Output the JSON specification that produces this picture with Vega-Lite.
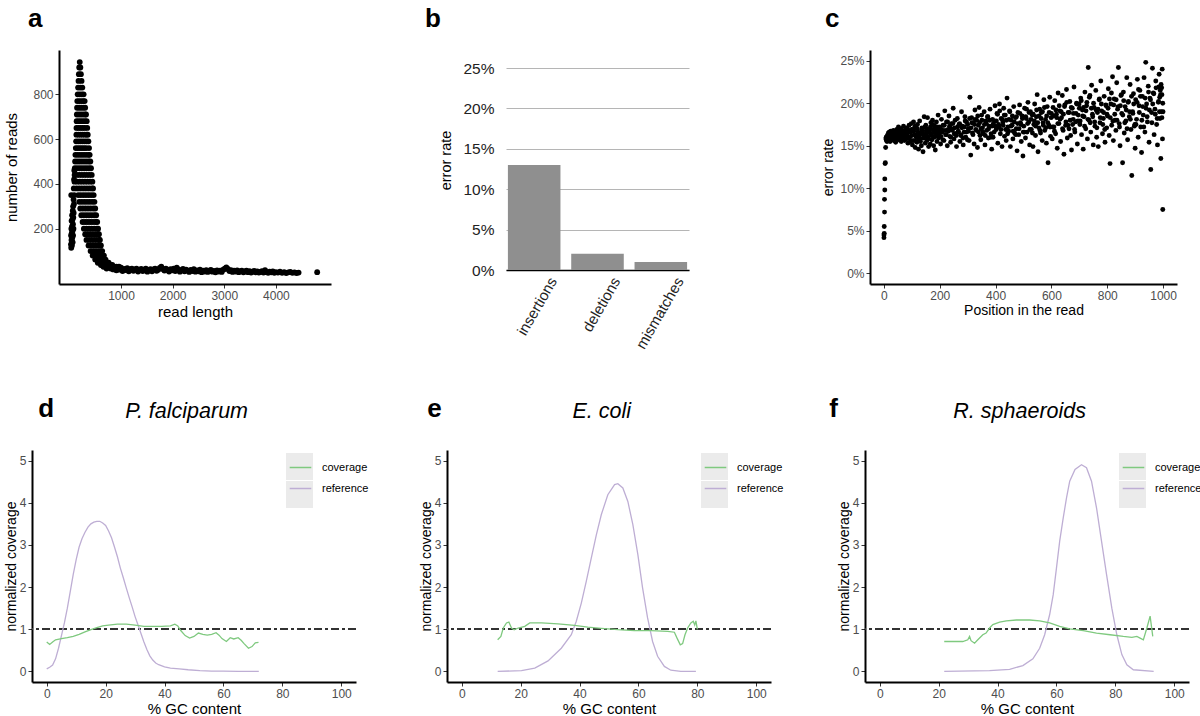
{
"$schema": "https://vega.github.io/schema/vega-lite/v6.json",
"padding": {"left": 3, "top": 6, "right": 0, "bottom": 0},
"background": "white",
"config": {
  "font": "Liberation Sans",
  "view": {"stroke": null},
  "axis": {"domainColor": "#000", "domainWidth": 2, "tickColor": "#333", "tickSize": 4, "tickWidth": 1, "labelColor": "#4d4d4d", "labelFontSize": 12, "labelPadding": 2, "titleFontSize": 15, "titleFontWeight": "normal", "titleColor": "#000", "grid": false},
  "title": {"fontSize": 26, "fontWeight": "bold", "anchor": "start", "color": "#000"}
},
"datasets": {
"lengths": [
{"x":35,"n":350},{"x":30,"n":130},{"x":32,"n":170},{"x":35,"n":115},{"x":38,"n":200},{"x":40,"n":150},{"x":42,"n":235},{"x":45,"n":180},{"x":48,"n":125},{"x":50,"n":210},{"x":52,"n":260},{"x":55,"n":160},{"x":58,"n":240},{"x":60,"n":190},{"x":62,"n":140},{"x":65,"n":280},{"x":68,"n":220},{"x":70,"n":170},{"x":72,"n":300},{"x":75,"n":250},{"x":78,"n":200},{"x":80,"n":330},{"x":82,"n":270},{"x":85,"n":380},{"x":88,"n":310},{"x":90,"n":420},{"x":92,"n":350},{"x":95,"n":460},
{"x":200,"n":944},
{"x":190,"n":920},{"x":212,"n":920},
{"x":183,"n":890},{"x":222,"n":890},
{"x":176,"n":860},{"x":235,"n":860},
{"x":168,"n":830},{"x":210,"n":830},{"x":250,"n":830},
{"x":160,"n":800},{"x":200,"n":800},{"x":240,"n":800},{"x":275,"n":800},
{"x":152,"n":770},{"x":192,"n":770},{"x":232,"n":770},{"x":270,"n":770},{"x":295,"n":770},
{"x":148,"n":740},{"x":188,"n":740},{"x":228,"n":740},{"x":268,"n":740},{"x":305,"n":740},
{"x":144,"n":710},{"x":184,"n":710},{"x":224,"n":710},{"x":264,"n":710},{"x":304,"n":710},{"x":322,"n":710},
{"x":140,"n":680},{"x":180,"n":680},{"x":220,"n":680},{"x":260,"n":680},{"x":300,"n":680},{"x":335,"n":680},
{"x":137,"n":650},{"x":177,"n":650},{"x":217,"n":650},{"x":257,"n":650},{"x":297,"n":650},{"x":345,"n":650},
{"x":135,"n":620},{"x":175,"n":620},{"x":215,"n":620},{"x":255,"n":620},{"x":295,"n":620},{"x":335,"n":620},{"x":355,"n":620},
{"x":130,"n":590},{"x":170,"n":590},{"x":210,"n":590},{"x":250,"n":590},{"x":290,"n":590},{"x":330,"n":590},{"x":368,"n":590},
{"x":124,"n":560},{"x":164,"n":560},{"x":204,"n":560},{"x":244,"n":560},{"x":284,"n":560},{"x":324,"n":560},{"x":380,"n":560},
{"x":116,"n":530},{"x":158,"n":530},{"x":200,"n":530},{"x":242,"n":530},{"x":284,"n":530},{"x":326,"n":530},{"x":368,"n":530},{"x":392,"n":530},
{"x":110,"n":500},{"x":152,"n":500},{"x":196,"n":500},{"x":240,"n":500},{"x":284,"n":500},{"x":328,"n":500},{"x":372,"n":500},{"x":405,"n":500},
{"x":104,"n":470},{"x":148,"n":470},{"x":194,"n":470},{"x":240,"n":470},{"x":286,"n":470},{"x":332,"n":470},{"x":378,"n":470},{"x":418,"n":470},
{"x":100,"n":440},{"x":146,"n":440},{"x":194,"n":440},{"x":242,"n":440},{"x":290,"n":440},{"x":338,"n":440},{"x":386,"n":440},{"x":432,"n":440},
{"x":98,"n":410},{"x":150,"n":410},{"x":200,"n":410},{"x":250,"n":410},{"x":300,"n":410},{"x":350,"n":410},{"x":400,"n":410},{"x":445,"n":410},
{"x":140,"n":380},{"x":190,"n":380},{"x":240,"n":380},{"x":290,"n":380},{"x":340,"n":380},{"x":390,"n":380},{"x":440,"n":380},{"x":458,"n":380},
{"x":170,"n":350},{"x":220,"n":350},{"x":270,"n":350},{"x":320,"n":350},{"x":370,"n":350},{"x":420,"n":350},{"x":470,"n":350},
{"x":190,"n":320},{"x":240,"n":320},{"x":290,"n":320},{"x":340,"n":320},{"x":390,"n":320},{"x":440,"n":320},{"x":485,"n":320},
{"x":210,"n":290},{"x":260,"n":290},{"x":310,"n":290},{"x":360,"n":290},{"x":410,"n":290},{"x":460,"n":290},{"x":500,"n":290},
{"x":230,"n":260},{"x":280,"n":260},{"x":330,"n":260},{"x":380,"n":260},{"x":430,"n":260},{"x":480,"n":260},{"x":518,"n":260},
{"x":255,"n":230},{"x":305,"n":230},{"x":355,"n":230},{"x":405,"n":230},{"x":455,"n":230},{"x":505,"n":230},{"x":538,"n":230},
{"x":280,"n":200},{"x":330,"n":200},{"x":380,"n":200},{"x":430,"n":200},{"x":480,"n":200},{"x":530,"n":200},{"x":555,"n":200},
{"x":305,"n":175},{"x":355,"n":175},{"x":405,"n":175},{"x":455,"n":175},{"x":505,"n":175},{"x":555,"n":175},{"x":572,"n":175},
{"x":330,"n":150},{"x":380,"n":150},{"x":430,"n":150},{"x":480,"n":150},{"x":530,"n":150},{"x":580,"n":150},{"x":590,"n":150},
{"x":370,"n":125},{"x":420,"n":125},{"x":470,"n":125},{"x":520,"n":125},{"x":570,"n":125},{"x":610,"n":125},
{"x":410,"n":100},{"x":460,"n":100},{"x":510,"n":100},{"x":560,"n":100},{"x":610,"n":100},{"x":635,"n":100},
{"x":450,"n":80},{"x":500,"n":80},{"x":550,"n":80},{"x":600,"n":80},{"x":650,"n":80},{"x":668,"n":80},
{"x":500,"n":62},{"x":555,"n":62},{"x":610,"n":62},{"x":665,"n":62},{"x":700,"n":62},
{"x":550,"n":48},{"x":610,"n":48},{"x":670,"n":48},{"x":725,"n":48},{"x":760,"n":48},
{"x":610,"n":38},{"x":670,"n":38},{"x":730,"n":38},{"x":790,"n":38},{"x":830,"n":38},
{"x":660,"n":30},{"x":720,"n":30},{"x":780,"n":30},{"x":850,"n":30},{"x":910,"n":30},{"x":960,"n":30},
{"x":720,"n":22},{"x":800,"n":22},{"x":880,"n":22},{"x":960,"n":22},
{"x":820,"n":26},{"x":850,"n":18},{"x":880,"n":28},{"x":910,"n":14},{"x":940,"n":23},{"x":970,"n":17},{"x":1000,"n":26},{"x":1030,"n":11},{"x":1060,"n":20},{"x":1090,"n":15},{"x":1120,"n":24},{"x":1150,"n":10},{"x":1180,"n":19},{"x":1210,"n":22},{"x":1240,"n":12},{"x":1270,"n":18},{"x":1300,"n":21},{"x":1330,"n":9},{"x":1360,"n":16},{"x":1390,"n":20},{"x":1420,"n":11},{"x":1450,"n":17},{"x":1480,"n":21},{"x":1510,"n":8},{"x":1540,"n":15},{"x":1570,"n":19},{"x":1600,"n":10},{"x":1630,"n":18},{"x":1660,"n":22},{"x":1690,"n":12},{"x":1720,"n":17},{"x":1750,"n":25},{"x":1780,"n":30},{"x":1810,"n":20},{"x":1840,"n":13},{"x":1870,"n":21},{"x":1900,"n":16},{"x":1930,"n":9},{"x":1960,"n":19},{"x":1990,"n":14},{"x":2020,"n":22},{"x":2050,"n":11},{"x":2080,"n":26},{"x":2110,"n":18},{"x":2140,"n":8},{"x":2170,"n":15},{"x":2200,"n":20},{"x":2230,"n":10},{"x":2260,"n":17},{"x":2290,"n":13},{"x":2320,"n":7},{"x":2350,"n":16},{"x":2380,"n":11},{"x":2410,"n":19},{"x":2440,"n":8},{"x":2470,"n":14},{"x":2500,"n":10},{"x":2530,"n":17},{"x":2560,"n":6},{"x":2590,"n":13},{"x":2620,"n":9},{"x":2650,"n":15},{"x":2680,"n":7},{"x":2710,"n":12},{"x":2740,"n":16},{"x":2770,"n":8},{"x":2800,"n":11},{"x":2830,"n":5},{"x":2860,"n":14},{"x":2890,"n":9},{"x":2920,"n":13},{"x":2950,"n":7},{"x":2980,"n":17},{"x":3010,"n":21},{"x":3040,"n":27},{"x":3070,"n":20},{"x":3100,"n":11},{"x":3130,"n":15},{"x":3160,"n":7},{"x":3190,"n":12},{"x":3220,"n":9},{"x":3250,"n":14},{"x":3280,"n":6},{"x":3310,"n":10},{"x":3340,"n":13},{"x":3370,"n":5},{"x":3400,"n":9},{"x":3430,"n":12},{"x":3460,"n":6},{"x":3490,"n":10},{"x":3520,"n":4},{"x":3550,"n":8},{"x":3580,"n":11},{"x":3610,"n":5},{"x":3640,"n":9},{"x":3670,"n":4},{"x":3700,"n":7},{"x":3730,"n":10},{"x":3760,"n":4},{"x":3790,"n":15},{"x":3820,"n":6},{"x":3850,"n":3},{"x":3880,"n":8},{"x":3910,"n":5},{"x":3940,"n":9},{"x":3970,"n":3},{"x":4000,"n":6},{"x":4040,"n":4},{"x":4080,"n":8},{"x":4120,"n":3},{"x":4160,"n":6},{"x":4200,"n":2},{"x":4240,"n":5},{"x":4280,"n":7},{"x":4320,"n":3},{"x":4360,"n":5},{"x":4400,"n":2},{"x":4440,"n":4},{"x":4800,"n":6}
],
"err": [{"type":"insertions","rate":0.13},{"type":"deletions","rate":0.02},{"type":"mismatches","rate":0.01}],
"pos": [
{"x":0,"p":4.2},{"x":0,"p":4.5},{"x":1,"p":4.7},{"x":1,"p":5.5},{"x":2,"p":7.2},{"x":2,"p":8.7},{"x":3,"p":9.8},{"x":3,"p":11.1},{"x":4,"p":12.9},{"x":5,"p":13.0},{"x":6,"p":14.8},{"x":7,"p":15.8},{"x":8,"p":16.0},{"x":9,"p":15.6},
{"x":10,"p":15.9},{"x":12,"p":16.2},{"x":14,"p":15.6},{"x":16,"p":16.5},{"x":18,"p":15.8},{"x":20,"p":16.1},{"x":22,"p":15.5},{"x":24,"p":16.7},{"x":26,"p":16.0},{"x":28,"p":15.7},{"x":30,"p":16.4},{"x":32,"p":15.9},{"x":34,"p":16.8},{"x":36,"p":15.6},{"x":38,"p":16.2},{"x":40,"p":16.6},{"x":42,"p":15.4},{"x":44,"p":16.0},{"x":46,"p":16.9},{"x":48,"p":15.8},{"x":50,"p":16.3},{"x":52,"p":17.2},{"x":54,"p":15.7},{"x":56,"p":16.5},{"x":58,"p":16.1},{"x":60,"p":17.0},{"x":62,"p":15.5},{"x":64,"p":16.4},{"x":66,"p":16.8},{"x":68,"p":15.9},{"x":70,"p":17.3},{"x":72,"p":16.2},{"x":74,"p":15.6},{"x":76,"p":16.7},{"x":78,"p":17.1},{"x":80,"p":15.8},{"x":82,"p":16.4},{"x":84,"p":16.9},{"x":86,"p":15.3},{"x":88,"p":16.6},{"x":90,"p":17.4},{"x":92,"p":16.0},{"x":94,"p":15.5},{"x":96,"p":16.8},{"x":98,"p":17.6},{"x":100,"p":16.2},
{"x":102,"p":15.1},{"x":104,"p":16.9},{"x":106,"p":17.8},{"x":108,"p":15.6},{"x":110,"p":16.3},{"x":112,"p":14.8},{"x":114,"p":17.2},{"x":116,"p":16.0},{"x":118,"p":15.4},{"x":120,"p":17.5},{"x":122,"p":16.6},{"x":124,"p":14.6},{"x":126,"p":16.1},{"x":128,"p":17.9},{"x":130,"p":15.8},{"x":132,"p":16.4},{"x":134,"p":15.0},{"x":136,"p":17.1},{"x":138,"p":16.7},{"x":140,"p":14.3},{"x":142,"p":15.9},{"x":144,"p":18.4},{"x":146,"p":16.2},{"x":148,"p":15.3},{"x":150,"p":17.4},{"x":152,"p":16.8},{"x":154,"p":15.6},{"x":156,"p":18.3},{"x":158,"p":16.0},{"x":160,"p":14.9},{"x":162,"p":17.0},{"x":164,"p":16.5},{"x":166,"p":15.2},{"x":168,"p":17.7},{"x":170,"p":16.3},{"x":172,"p":15.7},{"x":174,"p":18.0},{"x":176,"p":16.9},{"x":178,"p":15.0},{"x":180,"p":16.6},{"x":182,"p":17.3},{"x":184,"p":14.5},{"x":186,"p":16.1},{"x":188,"p":17.8},{"x":190,"p":15.5},{"x":192,"p":16.8},{"x":194,"p":18.6},{"x":196,"p":15.9},{"x":198,"p":16.4},{"x":200,"p":17.2},
{"x":203,"p":15.2},{"x":206,"p":18.1},{"x":209,"p":16.6},{"x":212,"p":17.4},{"x":215,"p":15.6},{"x":218,"p":19.1},{"x":221,"p":16.3},{"x":224,"p":17.8},{"x":227,"p":15.0},{"x":230,"p":16.9},{"x":233,"p":18.5},{"x":236,"p":16.1},{"x":239,"p":15.4},{"x":242,"p":17.6},{"x":245,"p":16.8},{"x":248,"p":19.4},{"x":251,"p":15.8},{"x":254,"p":17.1},{"x":257,"p":16.4},{"x":260,"p":14.9},{"x":263,"p":18.2},{"x":266,"p":16.7},{"x":269,"p":17.5},{"x":272,"p":15.5},{"x":275,"p":16.2},{"x":278,"p":19.0},{"x":281,"p":17.3},{"x":284,"p":15.1},{"x":287,"p":16.6},{"x":290,"p":18.4},{"x":293,"p":16.0},{"x":296,"p":17.8},{"x":299,"p":15.7},
{"x":302,"p":17.0},{"x":305,"p":15.6},{"x":308,"p":20.7},{"x":311,"p":13.9},{"x":314,"p":18.3},{"x":317,"p":16.5},{"x":320,"p":17.7},{"x":323,"p":15.2},{"x":326,"p":19.2},{"x":329,"p":16.9},{"x":332,"p":18.0},{"x":335,"p":14.8},{"x":338,"p":17.4},{"x":341,"p":19.5},{"x":344,"p":16.2},{"x":347,"p":15.7},{"x":350,"p":18.6},{"x":353,"p":17.1},{"x":356,"p":16.4},{"x":359,"p":19.0},{"x":362,"p":15.1},{"x":365,"p":17.9},{"x":368,"p":16.8},{"x":371,"p":18.4},{"x":374,"p":15.9},{"x":377,"p":17.3},{"x":380,"p":19.3},{"x":383,"p":16.0},{"x":386,"p":14.6},{"x":389,"p":18.1},{"x":392,"p":17.6},{"x":395,"p":16.6},{"x":398,"p":19.7},
{"x":402,"p":16.9},{"x":405,"p":18.8},{"x":408,"p":15.3},{"x":411,"p":17.5},{"x":414,"p":19.9},{"x":417,"p":16.4},{"x":420,"p":18.2},{"x":423,"p":14.9},{"x":426,"p":17.8},{"x":429,"p":19.4},{"x":432,"p":16.1},{"x":435,"p":18.6},{"x":438,"p":15.6},{"x":441,"p":20.6},{"x":444,"p":17.2},{"x":447,"p":16.7},{"x":450,"p":19.1},{"x":453,"p":14.9},{"x":456,"p":18.0},{"x":459,"p":17.4},{"x":462,"p":15.8},{"x":465,"p":19.6},{"x":468,"p":16.5},{"x":471,"p":18.3},{"x":474,"p":17.0},{"x":477,"p":14.4},{"x":480,"p":18.9},{"x":483,"p":16.3},{"x":486,"p":19.8},{"x":489,"p":17.7},{"x":492,"p":15.5},{"x":495,"p":18.5},{"x":498,"p":13.8},
{"x":501,"p":17.3},{"x":504,"p":19.4},{"x":507,"p":15.9},{"x":510,"p":18.2},{"x":513,"p":16.6},{"x":516,"p":20.1},{"x":519,"p":17.8},{"x":522,"p":15.1},{"x":525,"p":19.0},{"x":528,"p":16.9},{"x":531,"p":18.6},{"x":534,"p":14.9},{"x":537,"p":17.5},{"x":540,"p":19.9},{"x":543,"p":16.2},{"x":546,"p":18.4},{"x":549,"p":21.0},{"x":552,"p":14.3},{"x":555,"p":17.1},{"x":558,"p":19.3},{"x":561,"p":16.5},{"x":564,"p":18.9},{"x":567,"p":15.6},{"x":570,"p":17.7},{"x":573,"p":20.4},{"x":576,"p":16.8},{"x":579,"p":18.1},{"x":582,"p":15.3},{"x":585,"p":19.6},{"x":588,"p":13.0},{"x":591,"p":17.4},{"x":594,"p":20.7},{"x":597,"p":16.1},{"x":600,"p":18.8},
{"x":603,"p":15.8},{"x":606,"p":19.5},{"x":609,"p":17.2},{"x":612,"p":20.3},{"x":615,"p":16.4},{"x":618,"p":18.7},{"x":621,"p":14.7},{"x":624,"p":21.2},{"x":627,"p":17.6},{"x":630,"p":19.1},{"x":633,"p":15.5},{"x":636,"p":18.3},{"x":639,"p":20.9},{"x":642,"p":16.8},{"x":645,"p":14.0},{"x":648,"p":19.8},{"x":651,"p":17.4},{"x":654,"p":21.6},{"x":657,"p":15.9},{"x":660,"p":18.9},{"x":663,"p":17.0},{"x":666,"p":20.2},{"x":669,"p":16.2},{"x":672,"p":14.5},{"x":675,"p":19.4},{"x":678,"p":18.1},{"x":681,"p":21.9},{"x":684,"p":16.6},{"x":687,"p":17.8},{"x":690,"p":20.0},{"x":693,"p":15.2},{"x":696,"p":18.6},{"x":699,"p":19.9},
{"x":702,"p":17.5},{"x":705,"p":20.6},{"x":708,"p":16.3},{"x":711,"p":19.2},{"x":714,"p":14.6},{"x":717,"p":18.4},{"x":720,"p":21.3},{"x":723,"p":17.0},{"x":726,"p":19.7},{"x":729,"p":15.8},{"x":732,"p":24.2},{"x":735,"p":18.0},{"x":738,"p":20.9},{"x":741,"p":16.6},{"x":744,"p":22.1},{"x":747,"p":18.7},{"x":750,"p":15.1},{"x":753,"p":19.5},{"x":756,"p":17.3},{"x":759,"p":21.5},{"x":762,"p":16.0},{"x":765,"p":18.9},{"x":768,"p":14.9},{"x":771,"p":20.4},{"x":774,"p":17.7},{"x":777,"p":22.6},{"x":780,"p":19.1},{"x":783,"p":16.4},{"x":786,"p":18.2},{"x":789,"p":20.8},{"x":792,"p":15.4},{"x":795,"p":19.8},{"x":798,"p":17.1},
{"x":801,"p":18.5},{"x":804,"p":21.7},{"x":807,"p":16.2},{"x":810,"p":12.9},{"x":813,"p":19.9},{"x":816,"p":17.4},{"x":819,"p":23.1},{"x":822,"p":15.6},{"x":825,"p":20.5},{"x":828,"p":18.0},{"x":831,"p":16.8},{"x":834,"p":22.4},{"x":837,"p":19.3},{"x":840,"p":24.2},{"x":843,"p":17.6},{"x":846,"p":15.0},{"x":849,"p":20.9},{"x":852,"p":18.8},{"x":855,"p":13.0},{"x":858,"p":21.3},{"x":861,"p":16.5},{"x":864,"p":19.6},{"x":867,"p":17.9},{"x":870,"p":23.0},{"x":873,"p":15.7},{"x":876,"p":20.2},{"x":879,"p":18.4},{"x":882,"p":22.2},{"x":885,"p":16.9},{"x":888,"p":11.5},{"x":891,"p":19.0},{"x":894,"p":21.1},{"x":897,"p":17.3},{"x":900,"p":14.7},
{"x":902,"p":20.4},{"x":905,"p":18.1},{"x":908,"p":22.8},{"x":911,"p":16.0},{"x":914,"p":19.7},{"x":917,"p":21.5},{"x":920,"p":17.2},{"x":923,"p":14.2},{"x":926,"p":20.8},{"x":929,"p":18.6},{"x":932,"p":23.0},{"x":935,"p":16.6},{"x":938,"p":24.8},{"x":941,"p":19.9},{"x":944,"p":17.8},{"x":947,"p":22.0},{"x":950,"p":15.4},{"x":953,"p":20.6},{"x":956,"p":12.2},{"x":959,"p":18.9},{"x":962,"p":24.1},{"x":965,"p":21.2},{"x":968,"p":16.3},{"x":971,"p":19.3},{"x":974,"p":22.6},{"x":977,"p":17.5},{"x":980,"p":15.1},{"x":983,"p":20.1},{"x":986,"p":23.4},{"x":989,"p":18.2},{"x":992,"p":13.5},{"x":995,"p":21.8},{"x":997,"p":24.0},{"x":999,"p":7.5},{"x":1000,"p":19.0},{"x":990,"p":21.5},{"x":993,"p":22.2},{"x":996,"p":21.0},{"x":998,"p":15.8},{"x":994,"p":19.0},{"x":985,"p":21.9},{"x":988,"p":20.7},
{"x":11,"p":15.5},{"x":15,"p":16.2},{"x":19,"p":16.6},{"x":23,"p":16.0},{"x":27,"p":16.5},{"x":31,"p":15.7},{"x":35,"p":16.3},{"x":39,"p":15.7},{"x":43,"p":16.5},{"x":47,"p":16.2},{"x":51,"p":16.0},{"x":55,"p":16.7},{"x":59,"p":16.2},{"x":63,"p":16.5},{"x":67,"p":15.9},{"x":71,"p":16.4},{"x":75,"p":16.7},{"x":79,"p":16.1},{"x":83,"p":17.0},{"x":87,"p":16.1},{"x":91,"p":15.9},{"x":95,"p":16.6},{"x":99,"p":16.9},
{"x":103,"p":15.6},{"x":107,"p":16.7},{"x":111,"p":17.3},{"x":115,"p":16.2},{"x":119,"p":17.0},{"x":123,"p":15.8},{"x":127,"p":16.5},{"x":131,"p":15.5},{"x":135,"p":16.9},{"x":139,"p":16.4},{"x":143,"p":16.0},{"x":147,"p":17.2},{"x":151,"p":16.4},{"x":155,"p":16.9},{"x":159,"p":15.8},{"x":163,"p":16.7},{"x":167,"p":17.2},{"x":171,"p":16.2},{"x":175,"p":17.5},{"x":179,"p":16.0},{"x":183,"p":16.9},{"x":187,"p":16.4},{"x":191,"p":17.2},{"x":195,"p":16.1},{"x":199,"p":16.8},
{"x":204,"p":16.1},{"x":207,"p":16.9},{"x":211,"p":15.7},{"x":216,"p":17.4},{"x":219,"p":16.8},{"x":223,"p":16.3},{"x":228,"p":17.8},{"x":231,"p":16.7},{"x":235,"p":17.3},{"x":240,"p":16.0},{"x":243,"p":17.0},{"x":247,"p":17.6},{"x":252,"p":16.4},{"x":255,"p":18.0},{"x":259,"p":16.2},{"x":264,"p":17.2},{"x":267,"p":16.6},{"x":271,"p":17.6},{"x":276,"p":16.3},{"x":279,"p":17.1},{"x":283,"p":15.9},{"x":288,"p":17.2},{"x":291,"p":17.9},{"x":295,"p":16.6},{"x":300,"p":17.5},
{"x":303,"p":16.7},{"x":307,"p":18.2},{"x":312,"p":17.1},{"x":315,"p":17.7},{"x":319,"p":16.3},{"x":324,"p":17.5},{"x":327,"p":18.1},{"x":331,"p":16.8},{"x":336,"p":18.5},{"x":339,"p":16.6},{"x":343,"p":17.7},{"x":348,"p":17.0},{"x":351,"p":18.0},{"x":355,"p":16.6},{"x":360,"p":17.5},{"x":363,"p":16.2},{"x":367,"p":17.6},{"x":372,"p":18.4},{"x":375,"p":17.0},{"x":379,"p":18.0},{"x":384,"p":16.4},{"x":387,"p":17.3},{"x":391,"p":16.0},{"x":396,"p":17.9},{"x":399,"p":17.3},
{"x":403,"p":17.9},{"x":407,"p":18.7},{"x":412,"p":17.2},{"x":415,"p":19.1},{"x":419,"p":16.9},{"x":424,"p":18.1},{"x":427,"p":17.4},{"x":431,"p":18.6},{"x":436,"p":16.9},{"x":439,"p":18.0},{"x":443,"p":16.4},{"x":448,"p":18.1},{"x":451,"p":19.0},{"x":455,"p":17.3},{"x":460,"p":18.5},{"x":463,"p":16.7},{"x":467,"p":17.8},{"x":472,"p":16.3},{"x":475,"p":18.4},{"x":479,"p":17.6},{"x":484,"p":17.0},{"x":487,"p":18.8},{"x":491,"p":17.5},{"x":496,"p":18.2},{"x":499,"p":16.6},
{"x":503,"p":16.6},{"x":508,"p":18.4},{"x":511,"p":19.3},{"x":515,"p":17.6},{"x":520,"p":18.9},{"x":523,"p":16.9},{"x":527,"p":18.1},{"x":532,"p":16.5},{"x":535,"p":18.7},{"x":539,"p":17.9},{"x":544,"p":17.3},{"x":547,"p":19.2},{"x":551,"p":17.7},{"x":556,"p":18.5},{"x":559,"p":16.8},{"x":563,"p":18.2},{"x":568,"p":19.0},{"x":571,"p":17.4},{"x":575,"p":19.5},{"x":580,"p":17.1},{"x":583,"p":18.5},{"x":587,"p":17.7},{"x":592,"p":18.9},{"x":595,"p":17.2},{"x":599,"p":18.3},
{"x":604,"p":17.2},{"x":607,"p":18.5},{"x":611,"p":16.7},{"x":616,"p":19.2},{"x":619,"p":18.3},{"x":623,"p":17.6},{"x":628,"p":19.7},{"x":631,"p":18.1},{"x":635,"p":19.0},{"x":640,"p":17.0},{"x":643,"p":18.7},{"x":647,"p":19.6},{"x":652,"p":17.8},{"x":655,"p":20.1},{"x":659,"p":17.4},{"x":664,"p":18.9},{"x":667,"p":18.0},{"x":671,"p":19.5},{"x":676,"p":17.5},{"x":679,"p":18.8},{"x":683,"p":16.9},{"x":688,"p":18.8},{"x":691,"p":19.9},{"x":695,"p":17.9},{"x":700,"p":19.4},
{"x":703,"p":17.9},{"x":707,"p":20.3},{"x":712,"p":18.5},{"x":715,"p":19.5},{"x":719,"p":17.3},{"x":724,"p":19.1},{"x":727,"p":20.1},{"x":731,"p":18.1},{"x":736,"p":20.7},{"x":739,"p":17.7},{"x":743,"p":19.4},{"x":748,"p":18.4},{"x":751,"p":20.0},{"x":755,"p":17.8},{"x":760,"p":19.2},{"x":763,"p":17.1},{"x":767,"p":19.3},{"x":772,"p":20.5},{"x":775,"p":18.3},{"x":779,"p":19.9},{"x":784,"p":17.5},{"x":787,"p":18.9},{"x":791,"p":16.9},{"x":796,"p":19.7},{"x":799,"p":18.7},
{"x":803,"p":19.4},{"x":808,"p":20.5},{"x":811,"p":18.3},{"x":815,"p":21.2},{"x":820,"p":17.9},{"x":823,"p":19.8},{"x":827,"p":18.7},{"x":832,"p":20.4},{"x":835,"p":18.0},{"x":839,"p":19.6},{"x":844,"p":17.2},{"x":847,"p":19.7},{"x":851,"p":21.0},{"x":856,"p":18.6},{"x":859,"p":20.3},{"x":863,"p":17.7},{"x":868,"p":19.2},{"x":871,"p":17.0},{"x":875,"p":20.1},{"x":880,"p":19.0},{"x":883,"p":18.1},{"x":887,"p":20.8},{"x":892,"p":18.8},{"x":895,"p":19.9},{"x":899,"p":17.5},
{"x":903,"p":17.5},{"x":907,"p":20.1},{"x":912,"p":21.6},{"x":915,"p":18.9},{"x":919,"p":20.8},{"x":924,"p":18.0},{"x":927,"p":19.6},{"x":931,"p":17.2},{"x":936,"p":20.6},{"x":939,"p":19.4},{"x":943,"p":18.4},{"x":948,"p":21.3},{"x":951,"p":19.2},{"x":955,"p":20.4},{"x":960,"p":17.7},{"x":963,"p":19.9},{"x":967,"p":21.1},{"x":972,"p":18.7},{"x":975,"p":21.8},{"x":979,"p":18.2},{"x":984,"p":20.2},{"x":987,"p":19.0},{"x":991,"p":21.0},{"x":996,"p":18.3},{"x":999,"p":20.0}
],
"gcd": [
{"s":"reference","x":0,"y":0.06},{"s":"reference","x":1,"y":0.1},{"s":"reference","x":2,"y":0.15},{"s":"reference","x":3,"y":0.3},{"s":"reference","x":4,"y":0.55},{"s":"reference","x":5,"y":0.85},{"s":"reference","x":6,"y":1.15},{"s":"reference","x":7,"y":1.5},{"s":"reference","x":8,"y":1.9},{"s":"reference","x":9,"y":2.3},{"s":"reference","x":10,"y":2.65},{"s":"reference","x":11,"y":2.95},{"s":"reference","x":12,"y":3.15},{"s":"reference","x":13,"y":3.3},{"s":"reference","x":14,"y":3.42},{"s":"reference","x":15,"y":3.5},{"s":"reference","x":16,"y":3.54},{"s":"reference","x":17,"y":3.56},{"s":"reference","x":18,"y":3.56},{"s":"reference","x":19,"y":3.52},{"s":"reference","x":20,"y":3.46},{"s":"reference","x":21,"y":3.33},{"s":"reference","x":22,"y":3.17},{"s":"reference","x":23,"y":2.95},{"s":"reference","x":24,"y":2.72},{"s":"reference","x":25,"y":2.45},{"s":"reference","x":26,"y":2.22},{"s":"reference","x":27,"y":1.98},{"s":"reference","x":28,"y":1.75},{"s":"reference","x":29,"y":1.53},{"s":"reference","x":30,"y":1.3},{"s":"reference","x":31,"y":1.1},{"s":"reference","x":32,"y":0.9},{"s":"reference","x":33,"y":0.7},{"s":"reference","x":34,"y":0.52},{"s":"reference","x":35,"y":0.37},{"s":"reference","x":36,"y":0.27},{"s":"reference","x":37,"y":0.2},{"s":"reference","x":38,"y":0.16},{"s":"reference","x":40,"y":0.11},{"s":"reference","x":42,"y":0.08},{"s":"reference","x":45,"y":0.06},{"s":"reference","x":48,"y":0.04},{"s":"reference","x":52,"y":0.02},{"s":"reference","x":56,"y":0.01},{"s":"reference","x":60,"y":0.01},{"s":"reference","x":65,"y":0},{"s":"reference","x":72,"y":0},
{"s":"coverage","x":0,"y":0.7},{"s":"coverage","x":1,"y":0.64},{"s":"coverage","x":2,"y":0.7},{"s":"coverage","x":3,"y":0.75},{"s":"coverage","x":5,"y":0.78},{"s":"coverage","x":7,"y":0.8},{"s":"coverage","x":9,"y":0.83},{"s":"coverage","x":11,"y":0.88},{"s":"coverage","x":13,"y":0.94},{"s":"coverage","x":15,"y":0.99},{"s":"coverage","x":17,"y":1.04},{"s":"coverage","x":19,"y":1.08},{"s":"coverage","x":21,"y":1.1},{"s":"coverage","x":24,"y":1.12},{"s":"coverage","x":27,"y":1.12},{"s":"coverage","x":30,"y":1.1},{"s":"coverage","x":33,"y":1.07},{"s":"coverage","x":36,"y":1.07},{"s":"coverage","x":39,"y":1.07},{"s":"coverage","x":42,"y":1.08},{"s":"coverage","x":43.5,"y":1.12},{"s":"coverage","x":44.5,"y":1.08},{"s":"coverage","x":45.5,"y":0.97},{"s":"coverage","x":47,"y":0.85},{"s":"coverage","x":48.5,"y":0.79},{"s":"coverage","x":50,"y":0.83},{"s":"coverage","x":51.5,"y":0.91},{"s":"coverage","x":53,"y":0.88},{"s":"coverage","x":54.5,"y":0.86},{"s":"coverage","x":56,"y":0.88},{"s":"coverage","x":57.5,"y":0.92},{"s":"coverage","x":58.5,"y":0.86},{"s":"coverage","x":59.5,"y":0.78},{"s":"coverage","x":61,"y":0.71},{"s":"coverage","x":62.3,"y":0.8},{"s":"coverage","x":63.5,"y":0.77},{"s":"coverage","x":65,"y":0.8},{"s":"coverage","x":66,"y":0.74},{"s":"coverage","x":67,"y":0.66},{"s":"coverage","x":68.5,"y":0.55},{"s":"coverage","x":69.7,"y":0.59},{"s":"coverage","x":70.8,"y":0.68},{"s":"coverage","x":71.9,"y":0.69}
],
"gce": [
{"s":"reference","x":12.2,"y":0},{"s":"reference","x":20.3,"y":0.02},{"s":"reference","x":24.8,"y":0.08},{"s":"reference","x":29.3,"y":0.25},{"s":"reference","x":33.8,"y":0.55},{"s":"reference","x":37.2,"y":0.87},{"s":"reference","x":38.9,"y":1.19},{"s":"reference","x":40.6,"y":1.62},{"s":"reference","x":42.3,"y":2.14},{"s":"reference","x":44,"y":2.69},{"s":"reference","x":45.7,"y":3.24},{"s":"reference","x":47.4,"y":3.72},{"s":"reference","x":49.6,"y":4.19},{"s":"reference","x":51.9,"y":4.43},{"s":"reference","x":53,"y":4.45},{"s":"reference","x":54.7,"y":4.35},{"s":"reference","x":56.4,"y":4.03},{"s":"reference","x":58.1,"y":3.48},{"s":"reference","x":59.8,"y":2.77},{"s":"reference","x":61.4,"y":1.98},{"s":"reference","x":63.1,"y":1.27},{"s":"reference","x":64.8,"y":0.71},{"s":"reference","x":66.5,"y":0.36},{"s":"reference","x":68.8,"y":0.12},{"s":"reference","x":71,"y":0.03},{"s":"reference","x":74.4,"y":0},{"s":"reference","x":79.5,"y":0},
{"s":"coverage","x":12.2,"y":0.75},{"s":"coverage","x":13.3,"y":0.83},{"s":"coverage","x":14.1,"y":1.03},{"s":"coverage","x":15.2,"y":1.15},{"s":"coverage","x":16,"y":1.17},{"s":"coverage","x":16.9,"y":1.03},{"s":"coverage","x":17.8,"y":0.99},{"s":"coverage","x":19.2,"y":1.03},{"s":"coverage","x":21.4,"y":1.07},{"s":"coverage","x":23.1,"y":1.15},{"s":"coverage","x":27.1,"y":1.15},{"s":"coverage","x":32.7,"y":1.13},{"s":"coverage","x":38.3,"y":1.09},{"s":"coverage","x":42.8,"y":1.05},{"s":"coverage","x":47.4,"y":1.02},{"s":"coverage","x":53,"y":0.99},{"s":"coverage","x":58.6,"y":0.97},{"s":"coverage","x":64.3,"y":0.97},{"s":"coverage","x":69.9,"y":0.95},{"s":"coverage","x":72.2,"y":0.93},{"s":"coverage","x":73.1,"y":0.79},{"s":"coverage","x":74.2,"y":0.63},{"s":"coverage","x":75,"y":0.66},{"s":"coverage","x":75.8,"y":0.87},{"s":"coverage","x":76.7,"y":1.03},{"s":"coverage","x":77.8,"y":1.15},{"s":"coverage","x":78.6,"y":1.19},{"s":"coverage","x":79.1,"y":1.1},{"s":"coverage","x":79.5,"y":1.2},{"s":"coverage","x":80,"y":1.0}
],
"gcf": [
{"s":"reference","x":21.9,"y":0},{"s":"reference","x":37.3,"y":0.02},{"s":"reference","x":44.1,"y":0.05},{"s":"reference","x":48.6,"y":0.14},{"s":"reference","x":52,"y":0.3},{"s":"reference","x":54.3,"y":0.55},{"s":"reference","x":56,"y":0.87},{"s":"reference","x":57.7,"y":1.35},{"s":"reference","x":58.9,"y":1.82},{"s":"reference","x":60,"y":2.45},{"s":"reference","x":61.1,"y":3.09},{"s":"reference","x":62.3,"y":3.64},{"s":"reference","x":63.4,"y":4.11},{"s":"reference","x":64.5,"y":4.51},{"s":"reference","x":66.3,"y":4.79},{"s":"reference","x":68.5,"y":4.9},{"s":"reference","x":70.2,"y":4.83},{"s":"reference","x":71.9,"y":4.51},{"s":"reference","x":73.6,"y":3.88},{"s":"reference","x":75.3,"y":3.09},{"s":"reference","x":77,"y":2.3},{"s":"reference","x":78.8,"y":1.5},{"s":"reference","x":80.5,"y":0.87},{"s":"reference","x":82.2,"y":0.4},{"s":"reference","x":83.9,"y":0.16},{"s":"reference","x":86.1,"y":0.04},{"s":"reference","x":93,"y":0},
{"s":"coverage","x":21.9,"y":0.71},{"s":"coverage","x":28.2,"y":0.71},{"s":"coverage","x":29.9,"y":0.75},{"s":"coverage","x":30.5,"y":0.83},{"s":"coverage","x":31,"y":0.73},{"s":"coverage","x":32.2,"y":0.67},{"s":"coverage","x":33.3,"y":0.75},{"s":"coverage","x":35,"y":0.87},{"s":"coverage","x":36.1,"y":0.91},{"s":"coverage","x":37.3,"y":1.03},{"s":"coverage","x":38.4,"y":1.11},{"s":"coverage","x":40.7,"y":1.17},{"s":"coverage","x":43,"y":1.2},{"s":"coverage","x":46.4,"y":1.22},{"s":"coverage","x":50.9,"y":1.22},{"s":"coverage","x":54.3,"y":1.2},{"s":"coverage","x":57.7,"y":1.15},{"s":"coverage","x":61.1,"y":1.07},{"s":"coverage","x":64.5,"y":1.01},{"s":"coverage","x":69.1,"y":0.97},{"s":"coverage","x":73.6,"y":0.91},{"s":"coverage","x":78.2,"y":0.87},{"s":"coverage","x":82.7,"y":0.83},{"s":"coverage","x":85.6,"y":0.81},{"s":"coverage","x":87.3,"y":0.83},{"s":"coverage","x":88.4,"y":0.79},{"s":"coverage","x":89.5,"y":0.75},{"s":"coverage","x":90.7,"y":1.03},{"s":"coverage","x":91.8,"y":1.31},{"s":"coverage","x":92.7,"y":0.83}
]
},
"resolve": {"scale": {"fill": "independent", "stroke": "independent"}, "legend": {"fill": "independent", "stroke": "independent"}},
"columns": 1,
"align": "none",
"spacing": 43,
"concat": [
{
 "columns": 2, "align": "none", "spacing": 0,
 "concat": [
  {"width": 1, "height": 1, "view": {"fill": "white", "stroke": null}, "data": {"values": []}, "mark": {"type": "point", "opacity": 0}},
  {
   "concat": [
    {
     "title": {"text": "a", "frame": "group", "dx": -31, "offset": -3, "baseline": "alphabetic"},
     "width": 272, "height": 234,
     "data": {"name": "lengths"},
     "mark": {"type": "circle", "size": 34, "color": "#000", "opacity": 1},
     "encoding": {
       "x": {"field": "x", "type": "quantitative", "scale": {"domain": [-202, 5068], "nice": false, "zero": false}, "axis": {"values": [1000, 2000, 3000, 4000], "format": "d", "title": "read length", "titlePadding": 3, "labelDx": 8}},
       "y": {"field": "n", "type": "quantitative", "scale": {"domain": [-47, 998], "nice": false, "zero": false}, "axis": {"values": [200, 400, 600, 800], "title": "number of reads", "titlePadding": 13}}
     }
    },
    {
     "concat": [
      {
       "title": {"text": "b", "frame": "group", "dx": -81, "offset": -3, "baseline": "alphabetic"},
       "width": 183, "height": 220,
       "data": {"name": "err"},
       "mark": {"type": "bar", "color": "#8f8f8f"},
       "encoding": {
         "x": {"field": "type", "type": "nominal", "sort": null, "scale": {"paddingInner": 0.17, "paddingOuter": 0.03}, "axis": {"title": null, "ticks": false, "labelAngle": -60, "labelFontSize": 15, "labelColor": "#222", "domainWidth": 1.5, "labelPadding": 8, "labelOffset": 19}},
         "y": {"field": "rate", "type": "quantitative", "scale": {"domain": [0, 0.2723], "nice": false}, "axis": {"values": [0, 0.05, 0.1, 0.15, 0.2, 0.25], "format": ".0%", "grid": true, "gridColor": "#b5b5b5", "gridWidth": 1, "domain": false, "ticks": false, "labelFontSize": 15.5, "labelColor": "#222", "labelPadding": 12, "title": "error rate", "titleFontSize": 14.5, "titlePadding": 9}}
       }
      },
      {
       "title": {"text": "c", "frame": "group", "dx": -45, "offset": -3, "baseline": "alphabetic"},
       "width": 307, "height": 234,
       "data": {"name": "pos"},
       "mark": {"type": "circle", "size": 24, "color": "#000", "opacity": 1},
       "encoding": {
         "x": {"field": "x", "type": "quantitative", "scale": {"domain": [-50, 1050], "nice": false, "zero": false}, "axis": {"values": [0, 200, 400, 600, 800, 1000], "format": "d", "title": "Position in the read", "titleFontSize": 14, "titlePadding": 2}},
         "y": {"field": "p", "type": "quantitative", "scale": {"domain": [-1.25, 26.25], "nice": false, "zero": false}, "axis": {"values": [0, 5, 10, 15, 20, 25], "labelExpr": "datum.value + '%'", "title": "error rate", "titleFontSize": 14, "titlePadding": 4}}
       }
      }
     ],
     "columns": 2, "align": "none", "spacing": 132
    }
   ],
   "columns": 2, "align": "none", "spacing": 94
  }
 ]
},
{
 "columns": 2, "align": "none", "spacing": 0,
 "resolve": {"scale": {"fill": "independent", "stroke": "independent"}, "legend": {"fill": "independent", "stroke": "independent"}},
 "concat": [
  {"width": 1, "height": 1, "view": {"fill": "white", "stroke": null}, "data": {"values": []}, "mark": {"type": "point", "opacity": 0}},
  {
   "resolve": {"scale": {"fill": "independent", "stroke": "independent"}, "legend": {"fill": "independent", "stroke": "independent"}},
   "concat": [
    {
     "title": {"text": "d", "frame": "bounds", "dx": 34, "dy": 42, "offset": 0, "baseline": "alphabetic"},
     "resolve": {"scale": {"fill": "independent", "stroke": "independent"}, "legend": {"fill": "independent", "stroke": "independent"}},
     "vconcat": [
      {
       "title": {"text": "P. falciparum", "anchor": "middle", "frame": "bounds", "fontSize": 21.5, "fontStyle": "italic", "fontWeight": "normal", "offset": 11, "baseline": "alphabetic"},
       "width": 324, "height": 232,
       "data": {"name": "gcd"},
       "layer": [
        {"mark": {"type": "rule", "color": "#333", "strokeWidth": 1.6, "strokeDash": [8, 3, 3, 3]}, "encoding": {"y": {"datum": 1, "type": "quantitative", "scale": {"domain": [-0.25, 5.25], "nice": false}, "axis": {"values": [0, 1, 2, 3, 4, 5], "title": "normalized coverage", "titleFontSize": 14, "titlePadding": 1}}}},
        {"transform": [{"filter": "false"}], "mark": {"type": "square", "filled": true}, "encoding": {
          "x": {"field": "x", "type": "quantitative", "scale": {"domain": [-5, 105], "nice": false, "zero": false}},
          "y": {"field": "y", "type": "quantitative", "scale": {"domain": [-0.25, 5.25], "nice": false}},
          "fill": {"field": "s", "type": "nominal", "scale": {"domain": ["reference", "coverage"], "range": ["#ebebeb", "#ebebeb"]}, "legend": {"orient": "none", "legendX": 254, "legendY": 3, "title": null, "symbolType": "square", "symbolSize": 729, "symbolStrokeWidth": 0, "symbolOpacity": 1, "labelOpacity": 0, "labelFontSize": 11, "labelOffset": 7, "rowPadding": 1, "padding": 0}}
        }},
        {"mark": {"type": "line", "strokeWidth": 1.3}, "encoding": {
          "x": {"field": "x", "type": "quantitative", "scale": {"domain": [-5, 105], "nice": false, "zero": false}, "axis": {"values": [0, 20, 40, 60, 80, 100], "title": "% GC content", "titlePadding": 2}},
          "y": {"field": "y", "type": "quantitative", "scale": {"domain": [-0.25, 5.25], "nice": false}, "axis": {"values": [0, 1, 2, 3, 4, 5], "title": "normalized coverage", "titleFontSize": 14, "titlePadding": 1}},
          "stroke": {"field": "s", "type": "nominal", "scale": {"domain": ["coverage", "reference"], "range": ["#7FC97F", "#BEAED4"]}, "legend": {"orient": "none", "legendX": 254, "legendY": 3, "title": null, "symbolType": "M-0.8,0H0.8", "symbolSize": 729, "symbolStrokeWidth": 1.5, "labelFontSize": 11, "labelColor": "#000", "labelOffset": 7, "rowPadding": 1, "padding": 0}}
        }}
       ]
      }
     ]
    },
    {
     "resolve": {"scale": {"fill": "independent", "stroke": "independent"}, "legend": {"fill": "independent", "stroke": "independent"}},
     "concat": [
      {
       "title": {"text": "e", "frame": "bounds", "dx": 8, "dy": 42, "offset": 0, "baseline": "alphabetic"},
       "resolve": {"scale": {"fill": "independent", "stroke": "independent"}, "legend": {"fill": "independent", "stroke": "independent"}},
       "vconcat": [
        {
         "title": {"text": "E. coli", "anchor": "middle", "frame": "bounds", "fontSize": 21.5, "fontStyle": "italic", "fontWeight": "normal", "offset": 11, "baseline": "alphabetic"},
         "width": 324, "height": 232,
         "data": {"name": "gce"},
         "layer": [
          {"mark": {"type": "rule", "color": "#333", "strokeWidth": 1.6, "strokeDash": [8, 3, 3, 3]}, "encoding": {"y": {"datum": 1, "type": "quantitative", "scale": {"domain": [-0.25, 5.25], "nice": false}, "axis": {"values": [0, 1, 2, 3, 4, 5], "title": "normalized coverage", "titleFontSize": 14, "titlePadding": 1}}}},
          {"transform": [{"filter": "false"}], "mark": {"type": "square", "filled": true}, "encoding": {
            "x": {"field": "x", "type": "quantitative", "scale": {"domain": [-5, 105], "nice": false, "zero": false}},
            "y": {"field": "y", "type": "quantitative", "scale": {"domain": [-0.25, 5.25], "nice": false}},
            "fill": {"field": "s", "type": "nominal", "scale": {"domain": ["reference", "coverage"], "range": ["#ebebeb", "#ebebeb"]}, "legend": {"orient": "none", "legendX": 254, "legendY": 3, "title": null, "symbolType": "square", "symbolSize": 729, "symbolStrokeWidth": 0, "symbolOpacity": 1, "labelOpacity": 0, "labelFontSize": 11, "labelOffset": 7, "rowPadding": 1, "padding": 0}}
          }},
          {"mark": {"type": "line", "strokeWidth": 1.3}, "encoding": {
            "x": {"field": "x", "type": "quantitative", "scale": {"domain": [-5, 105], "nice": false, "zero": false}, "axis": {"values": [0, 20, 40, 60, 80, 100], "title": "% GC content", "titlePadding": 2}},
            "y": {"field": "y", "type": "quantitative", "scale": {"domain": [-0.25, 5.25], "nice": false}, "axis": {"values": [0, 1, 2, 3, 4, 5], "title": "normalized coverage", "titleFontSize": 14, "titlePadding": 1}},
            "stroke": {"field": "s", "type": "nominal", "scale": {"domain": ["coverage", "reference"], "range": ["#7FC97F", "#BEAED4"]}, "legend": {"orient": "none", "legendX": 254, "legendY": 3, "title": null, "symbolType": "M-0.8,0H0.8", "symbolSize": 729, "symbolStrokeWidth": 1.5, "labelFontSize": 11, "labelColor": "#000", "labelOffset": 7, "rowPadding": 1, "padding": 0}}
          }}
         ]
        }
       ]
      },
      {
       "title": {"text": "f", "frame": "bounds", "dx": -8, "dy": 42, "offset": 0, "baseline": "alphabetic"},
       "resolve": {"scale": {"fill": "independent", "stroke": "independent"}, "legend": {"fill": "independent", "stroke": "independent"}},
       "vconcat": [
        {
         "title": {"text": "R. sphaeroids", "anchor": "middle", "frame": "bounds", "fontSize": 21.5, "fontStyle": "italic", "fontWeight": "normal", "offset": 11, "baseline": "alphabetic"},
         "width": 324, "height": 232,
         "data": {"name": "gcf"},
         "layer": [
          {"mark": {"type": "rule", "color": "#333", "strokeWidth": 1.6, "strokeDash": [8, 3, 3, 3]}, "encoding": {"y": {"datum": 1, "type": "quantitative", "scale": {"domain": [-0.25, 5.25], "nice": false}, "axis": {"values": [0, 1, 2, 3, 4, 5], "title": "normalized coverage", "titleFontSize": 14, "titlePadding": 1}}}},
          {"transform": [{"filter": "false"}], "mark": {"type": "square", "filled": true}, "encoding": {
            "x": {"field": "x", "type": "quantitative", "scale": {"domain": [-5, 105], "nice": false, "zero": false}},
            "y": {"field": "y", "type": "quantitative", "scale": {"domain": [-0.25, 5.25], "nice": false}},
            "fill": {"field": "s", "type": "nominal", "scale": {"domain": ["reference", "coverage"], "range": ["#ebebeb", "#ebebeb"]}, "legend": {"orient": "none", "legendX": 254, "legendY": 3, "title": null, "symbolType": "square", "symbolSize": 729, "symbolStrokeWidth": 0, "symbolOpacity": 1, "labelOpacity": 0, "labelFontSize": 11, "labelOffset": 7, "rowPadding": 1, "padding": 0}}
          }},
          {"mark": {"type": "line", "strokeWidth": 1.3}, "encoding": {
            "x": {"field": "x", "type": "quantitative", "scale": {"domain": [-5, 105], "nice": false, "zero": false}, "axis": {"values": [0, 20, 40, 60, 80, 100], "title": "% GC content", "titlePadding": 2}},
            "y": {"field": "y", "type": "quantitative", "scale": {"domain": [-0.25, 5.25], "nice": false}, "axis": {"values": [0, 1, 2, 3, 4, 5], "title": "normalized coverage", "titleFontSize": 14, "titlePadding": 1}},
            "stroke": {"field": "s", "type": "nominal", "scale": {"domain": ["coverage", "reference"], "range": ["#7FC97F", "#BEAED4"]}, "legend": {"orient": "none", "legendX": 254, "legendY": 3, "title": null, "symbolType": "M-0.8,0H0.8", "symbolSize": 729, "symbolStrokeWidth": 1.5, "labelFontSize": 11, "labelColor": "#000", "labelOffset": 7, "rowPadding": 1, "padding": 0}}
          }}
         ]
        }
       ]
      }
     ],
     "columns": 2, "align": "none", "spacing": 45
    }
   ],
   "columns": 2, "align": "none", "spacing": 50
  }
 ]
}
]
}
